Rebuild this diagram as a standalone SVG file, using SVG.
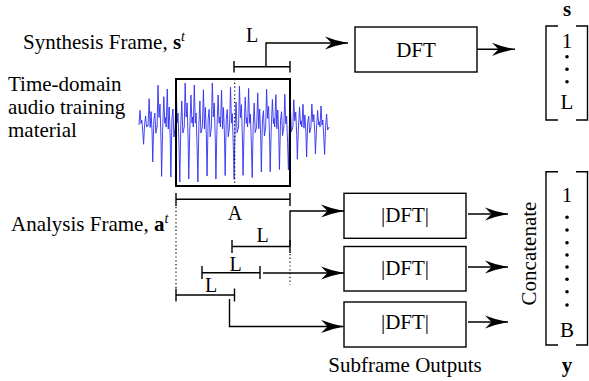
<svg xmlns="http://www.w3.org/2000/svg" xmlns:xlink="http://www.w3.org/1999/xlink" width="589" height="381" viewBox="0 0 589 381">
<style>
text{font-family:"Liberation Serif","Times New Roman",serif;fill:#000}
.t21{font-size:21px}
.lab{font-size:20px}
.mid{text-anchor:middle}
.b{font-weight:bold}
.sup{font-size:14px;font-style:italic}
.ln{fill:none;stroke:#000;stroke-width:1.4}
.box{fill:#fff;stroke:#000;stroke-width:1.4}
.dot{fill:none;stroke:#000;stroke-width:1.2;stroke-dasharray:1.2 2.6}
.wave{fill:none;stroke:#3030f0;stroke-width:0.9;stroke-linejoin:round;vector-effect:non-scaling-stroke}
.arr{fill:none;stroke:#000;stroke-width:1.4;marker-end:url(#ah)}
</style>
<defs>
<marker id="ah" markerWidth="24" markerHeight="14" refX="23" refY="7" orient="auto" markerUnits="userSpaceOnUse" viewBox="0 0 24 14">
<path d="M23,7 Q11,4.8 0,0.4 L6.5,7 L0,13.6 Q11,9.2 23,7 Z" fill="#000"/>
</marker>
<path id="pa" class="wave" d="M0,0 L1,-42 L2,-4 L2.8,-14 L3.8,20 L4.6,55 L5.6,-2 L6.6,-26 L7.6,6 L9.05,0"/>
<path id="pb" class="wave" d="M0,0 L1.1,-38 L2.1,2 L3,-20 L4,8 L4.7,50 L5.8,-8 L6.8,-18 L7.8,10 L9.05,0"/>
<path id="pc" class="wave" d="M0,0 L0.9,-44 L1.9,-10 L2.9,-24 L3.9,14 L4.5,52 L5.5,4 L6.7,-32 L7.7,-4 L8.3,-10 L9.05,0"/>
</defs>
<rect width="589" height="381" fill="#fff"/>

<g id="labels">
<text class="t21" x="23" y="49">Synthesis Frame, <tspan class="b">s</tspan><tspan class="sup" dy="-8">t</tspan></text>
<text class="t21" x="8" y="91">Time-domain</text>
<text class="t21" x="8" y="114">audio training</text>
<text class="t21" x="8" y="137">material</text>
<text class="t21" x="11" y="231">Analysis Frame, <tspan class="b">a</tspan><tspan class="sup" dy="-8">t</tspan></text>
<text class="t21 mid" x="405" y="372">Subframe Outputs</text>
</g>

<g id="waveform">
<use xlink:href="#pa" transform="translate(139,125) scale(1,0.35)"/>
<use xlink:href="#pb" transform="translate(148.05,126) scale(1,0.72)"/>
<use xlink:href="#pc" transform="translate(157.1,127) scale(1,0.95)"/>
<use xlink:href="#pb" transform="translate(166.15,127) scale(1,1)"/>
<use xlink:href="#pa" transform="translate(175.2,127) scale(1,1)"/>
<use xlink:href="#pc" transform="translate(184.25,127) scale(1,1)"/>
<use xlink:href="#pa" transform="translate(193.3,127) scale(1,1)"/>
<use xlink:href="#pb" transform="translate(202.35,127) scale(1,0.98)"/>
<use xlink:href="#pc" transform="translate(211.4,127) scale(1,1)"/>
<use xlink:href="#pb" transform="translate(220.45,127) scale(1,0.97)"/>
<use xlink:href="#pa" transform="translate(229.5,127) scale(1,0.95)"/>
<use xlink:href="#pc" transform="translate(238.55,127) scale(1,0.93)"/>
<use xlink:href="#pa" transform="translate(247.6,127) scale(1,0.92)"/>
<use xlink:href="#pb" transform="translate(256.65,127) scale(1,0.9)"/>
<use xlink:href="#pc" transform="translate(265.7,127) scale(1,0.86)"/>
<use xlink:href="#pb" transform="translate(274.75,127) scale(1,0.85)"/>
<use xlink:href="#pa" transform="translate(283.8,127) scale(1,0.78)"/>
<use xlink:href="#pc" transform="translate(292.85,127) scale(1,0.62)"/>
<use xlink:href="#pb" transform="translate(301.9,127) scale(1,0.6)"/>
<use xlink:href="#pc" transform="translate(310.95,127) scale(1,0.52)"/>
<use xlink:href="#pa" transform="translate(320,127) scale(1,0.5)"/>
</g>

<g id="frame">
<rect x="176" y="79" width="114" height="107" fill="none" stroke="#000" stroke-width="2"/>
<path class="dot" d="M234.7,79 V186"/>
</g>

<g id="dimensions">
<path class="ln" d="M234,66.7 H290 M234,61 V72.5 M290,61 V72.5"/>
<text class="lab mid" x="252" y="42">L</text>
<path class="ln" d="M176,199.3 H290 M176,193 V206 M290,193 V206"/>
<text class="lab mid" x="235" y="220">A</text>
<path class="ln" d="M232,246.5 H290 M232,240 V253 M290,240 V253"/>
<text class="lab mid" x="262.5" y="242">L</text>
<path class="ln" d="M202,272.7 H260 M202,266 V279 M260,266 V279"/>
<text class="lab mid" x="235.5" y="271">L</text>
<path class="ln" d="M176,295 H234.5 M176,288.5 V301.5 M234.5,288.5 V301.5"/>
<text class="lab mid" x="211" y="292">L</text>
<path class="dot" d="M176,207 V288"/>
<path class="dot" d="M290,254 V285"/>
</g>

<g id="connectors">
<path class="arr" d="M266,66.7 V43 H348"/>
<path class="arr" d="M477,49.3 H515"/>
<path class="arr" d="M290,246.5 V211 H344"/>
<path class="arr" d="M263,273 H344"/>
<path class="arr" d="M229.5,299 V326.5 H344"/>
<path class="arr" d="M468,214 H508"/>
<path class="arr" d="M468,267 H508"/>
<path class="arr" d="M468,322 H508"/>
</g>

<g id="dft">
<rect class="box" x="355" y="27" width="122" height="45"/>
<text class="t21 mid" x="416" y="57">DFT</text>
</g>
<g id="absdft1">
<rect class="box" x="344" y="193.3" width="122" height="45"/>
<text class="t21 mid" x="405" y="222">|DFT|</text>
</g>
<g id="absdft2">
<rect class="box" x="344" y="246.5" width="122" height="44.5"/>
<text class="t21 mid" x="405" y="275">|DFT|</text>
</g>
<g id="absdft3">
<rect class="box" x="344" y="302" width="122" height="45"/>
<text class="t21 mid" x="405" y="328.5">|DFT|</text>
</g>

<g id="vector-s">
<text class="t21 mid b" x="567" y="16">s</text>
<path class="ln" d="M558,26 H546 V120 H558 M576,26 H587.5 V120 H576"/>
<text class="t21 mid" x="567" y="48">1</text>
<circle cx="567" cy="56.7" r="1.8"/>
<circle cx="567" cy="69.3" r="1.8"/>
<circle cx="567" cy="81.7" r="1.8"/>
<text class="t21 mid" x="567" y="109">L</text>
</g>

<g id="vector-y">
<text class="t21 mid" transform="translate(536,253.5) rotate(-90)">Concatenate</text>
<path class="ln" d="M558,171.7 H546 V345 H558 M576,171.7 H587.5 V345 H576"/>
<text class="t21 mid" x="567" y="202">1</text>
<circle cx="567" cy="217.3" r="1.8"/>
<circle cx="567" cy="230" r="1.8"/>
<circle cx="567" cy="242.7" r="1.8"/>
<circle cx="567" cy="255" r="1.8"/>
<circle cx="567" cy="267" r="1.8"/>
<circle cx="567" cy="279.3" r="1.8"/>
<circle cx="567" cy="291.7" r="1.8"/>
<circle cx="567" cy="305" r="1.8"/>
<text class="t21 mid" x="567" y="336.5">B</text>
<text class="t21 mid b" x="567" y="372">y</text>
</g>
</svg>
